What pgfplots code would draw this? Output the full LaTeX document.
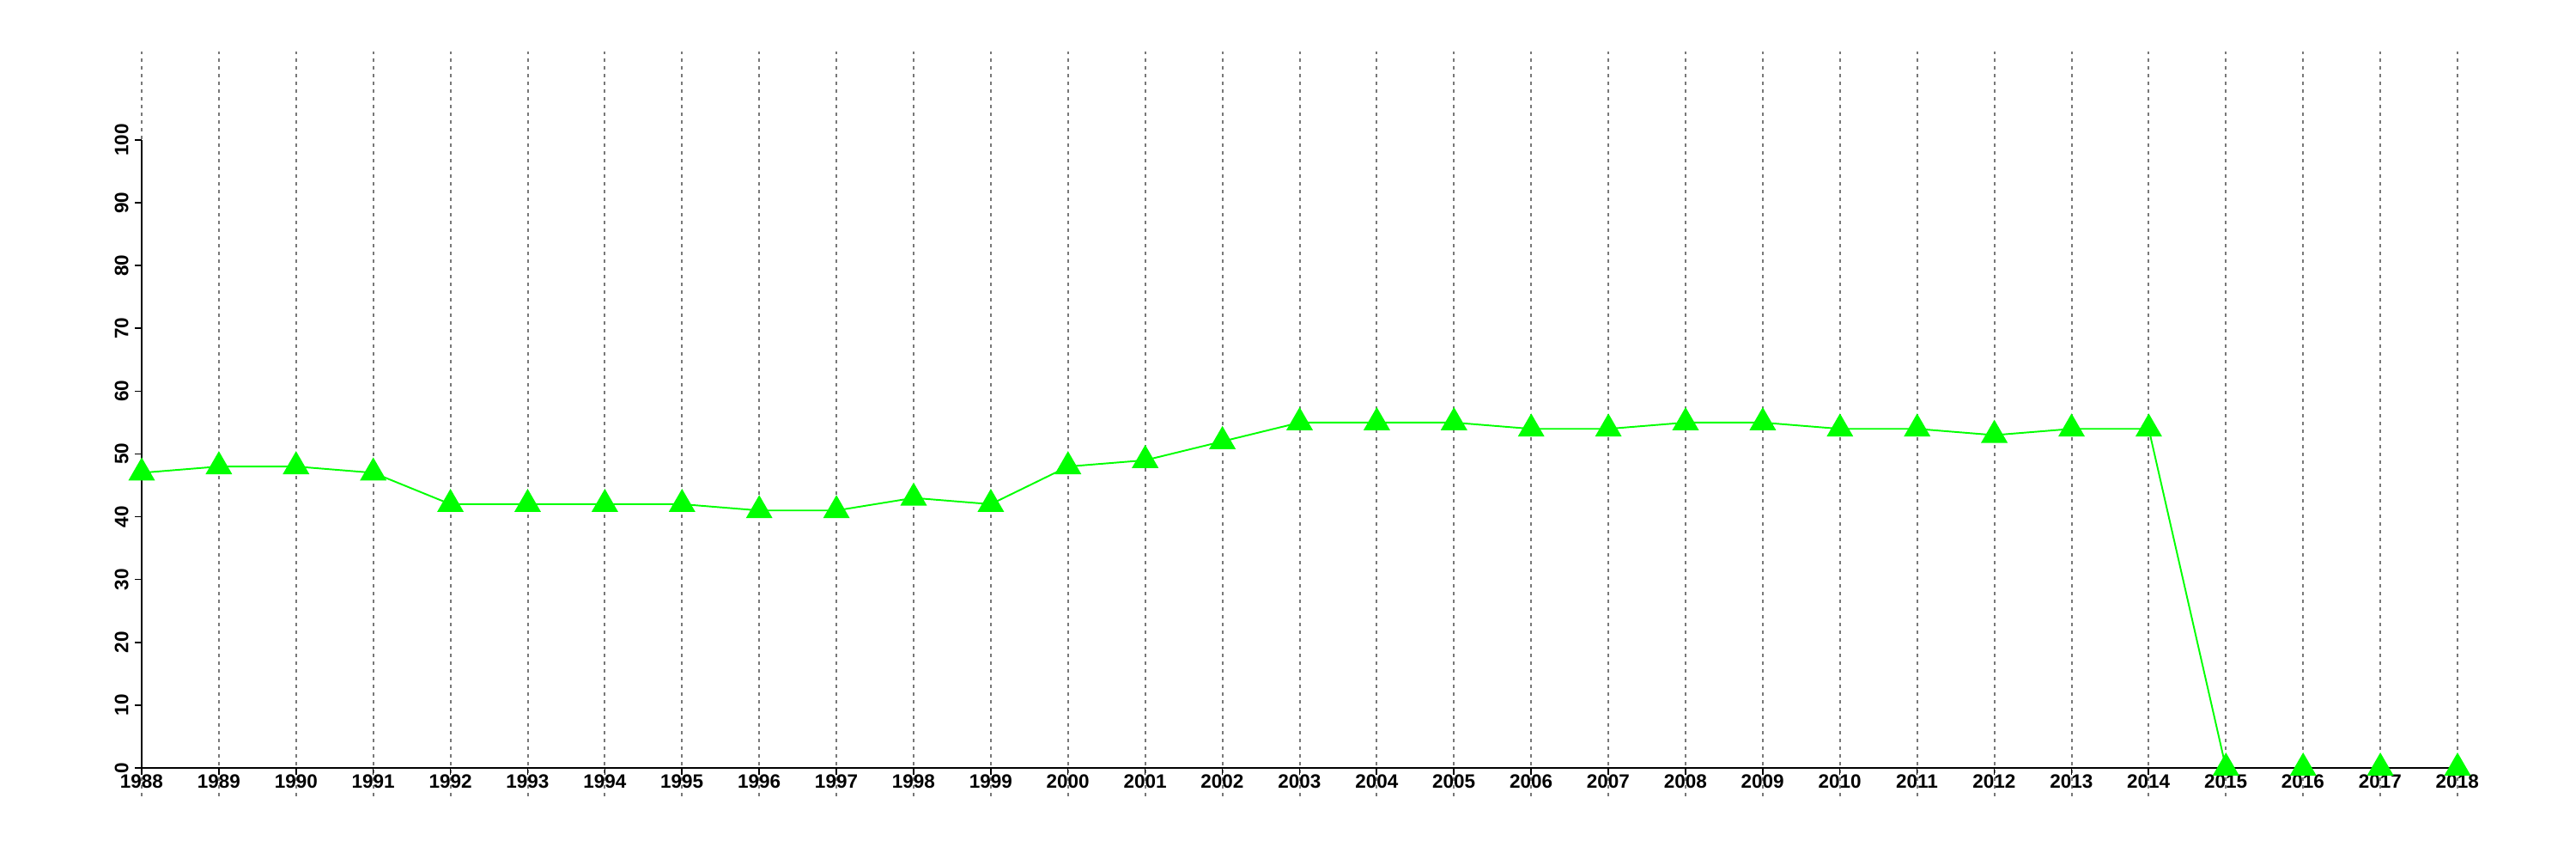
\documentclass[border=0pt]{standalone}
\usepackage{pgfplots}
\pgfplotsset{compat=1.18}
\usepackage{fontspec}
\setmainfont{Liberation Sans}
\definecolor{pgreen}{RGB}{0,255,0}
\definecolor{gridgray}{RGB}{120,120,120}
\pgfplotstableread{
year val
1988 47
1989 48
1990 48
1991 47
1992 42
1993 42
1994 42
1995 42
1996 41
1997 41
1998 43
1999 42
2000 48
2001 49
2002 52
2003 55
2004 55
2005 55
2006 54
2007 54
2008 55
2009 55
2010 54
2011 54
2012 53
2013 54
2014 54
2015 0
2016 0
2017 0
2018 0
}\datatable
\begin{document}
\begin{tikzpicture}
\useasboundingbox (-16.5mm,-10.6mm) rectangle (283.5mm,89.4mm);
\begin{axis}[
  at={(0,0)}, anchor=south west,
  scale only axis,
  width=269.7mm, height=73.1mm,
  xmin=1988, xmax=2018, ymin=0, ymax=100,
  clip=false,
  axis x line*=bottom, axis y line*=left,
  axis line style={black, line width=0.45pt, -},
  axis on top,
  xtick={1988,...,2018}, ytick={0,10,...,100},
  tick align=outside, major tick length=0.8mm,
  tick style={black, line width=0.45pt},
  /pgf/number format/assume math mode=true,
  /pgf/number format/1000 sep={},
  xticklabel style={font=\bfseries\fontsize{6.4}{7}\selectfont, inner sep=0.5pt, yshift=0.3mm},
  yticklabel style={font=\bfseries\fontsize{6.4}{7}\selectfont, rotate=90, anchor=south, inner sep=0.5pt, yshift=0.5mm},
]
\pgfplotsinvokeforeach{1988,...,2018}{
  \draw[gridgray, line width=0.2mm, dash pattern=on 0.4mm off 0.5mm] (axis cs:#1,-4.5) -- (axis cs:#1,114.1);
}
\addplot[pgreen, line width=0.55pt, mark=triangle*, mark size=1.6mm, mark options={solid, fill=pgreen, draw=pgreen}] table[x=year, y=val] {\datatable};
\end{axis}
\end{tikzpicture}
\end{document}
